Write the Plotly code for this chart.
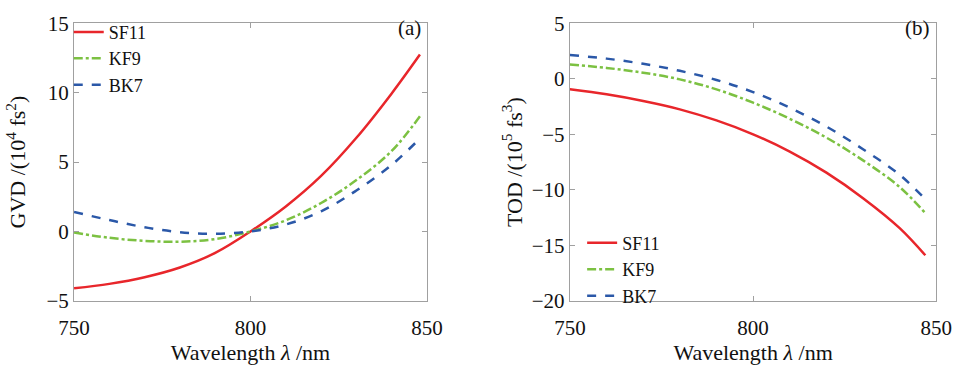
import plotly.graph_objects as go

# Wavelength samples (nm)
wl = [750, 760, 770, 780, 790, 800, 810, 820, 830, 840, 848]
wl_b = [750, 760, 770, 780, 790, 800, 810, 820, 830, 840, 847]

# (a) GVD in 10^4 fs^2
gvd_sf11 = [-4.1, -3.78, -3.3, -2.6, -1.55, 0.0, 1.8, 4.0, 6.75, 9.95, 12.75]
gvd_kf9 = [-0.08, -0.46, -0.68, -0.74, -0.55, 0.0, 0.8, 2.05, 3.7, 5.8, 8.3]
gvd_bk7 = [1.4, 0.82, 0.3, -0.05, -0.17, 0.0, 0.5, 1.45, 2.95, 4.8, 6.7]

# (b) TOD in 10^5 fs^3
tod_sf11 = [-0.95, -1.4, -2.0, -2.75, -3.75, -5.0, -6.55, -8.45, -10.75, -13.45, -15.9]
tod_kf9 = [1.3, 0.98, 0.55, -0.05, -0.95, -2.15, -3.6, -5.3, -7.35, -9.75, -12.1]
tod_bk7 = [2.15, 1.82, 1.35, 0.72, -0.1, -1.2, -2.6, -4.3, -6.35, -8.65, -10.85]

names = ["SF11", "KF9", "BK7"]
colors = ["#e8262b", "#7cc142", "#2b58a8"]
dashes = ["solid", "dashdot", "dash"]

x_ticks = [750, 800, 850]
ya_ticks = [-5, 0, 5, 10, 15]
yb_ticks = [-20, -15, -10, -5, 0, 5]

FONT = "Times New Roman, Liberation Serif, DejaVu Serif, serif"
fig = go.Figure()

for i, ys in enumerate([gvd_sf11, gvd_kf9, gvd_bk7]):
    fig.add_trace(go.Scatter(x=wl, y=ys, mode="lines", name=names[i],
                             line=dict(color=colors[i], dash=dashes[i], width=2.5, shape="spline", smoothing=1.0),
                             xaxis="x", yaxis="y", legend="legend"))
for i, ys in enumerate([tod_sf11, tod_kf9, tod_bk7]):
    fig.add_trace(go.Scatter(x=wl_b, y=ys, mode="lines", name=names[i],
                             line=dict(color=colors[i], dash=dashes[i], width=2.5, shape="spline", smoothing=1.0),
                             xaxis="x2", yaxis="y2", legend="legend2"))

ax_common = dict(showgrid=False, zeroline=False, showline=True, linecolor="#a0a0a0",
                 linewidth=1.2, mirror="allticks", ticks="inside", ticklen=5,
                 tickcolor="#a0a0a0", ticklabeloverflow="allow",
                 tickfont=dict(family=FONT, size=21, color="#111"))

fig.update_layout(
    width=974, height=367,
    margin=dict(l=0, r=0, t=0, b=0),
    paper_bgcolor="white", plot_bgcolor="white",
    font=dict(family=FONT, size=21, color="#111"),
    showlegend=True,
    xaxis=dict(domain=[0.0616, 0.4363], range=[750, 850], tickvals=x_ticks, ticklabelstandoff=8,
               title=dict(text="Wavelength <i>λ</i> /nm", standoff=3, font=dict(family=FONT, size=22)),
               anchor="y", **ax_common),
    yaxis=dict(domain=[0.158, 0.967], range=[-5, 15], tickvals=ya_ticks,
               title=dict(text="GVD /(10<sup>4</sup> fs<sup>2</sup>)", standoff=14, font=dict(family=FONT, size=22)),
               anchor="x", **ax_common),
    xaxis2=dict(domain=[0.588, 0.977], range=[750, 850], tickvals=x_ticks, ticklabelstandoff=8,
                title=dict(text="Wavelength <i>λ</i> /nm", standoff=3, font=dict(family=FONT, size=22)),
                anchor="y2", **ax_common),
    yaxis2=dict(domain=[0.158, 0.967], range=[-20, 5], tickvals=yb_ticks,
                title=dict(text="TOD /(10<sup>5</sup> fs<sup>3</sup>)", standoff=3, font=dict(family=FONT, size=22)),
                anchor="x2", **ax_common),
    legend=dict(x=0.056, y=0.995, xanchor="left", yanchor="top", bgcolor="rgba(0,0,0,0)",
                font=dict(family=FONT, size=18), tracegroupgap=0, itemwidth=30),
    legend2=dict(x=0.601, y=0.38, xanchor="left", yanchor="top", bgcolor="rgba(0,0,0,0)",
                 font=dict(family=FONT, size=18), tracegroupgap=0, itemwidth=30),
    annotations=[
        dict(text="(a)", x=0.432, y=0.995, xref="paper", yref="paper", xanchor="right",
             yanchor="top", showarrow=False, font=dict(family=FONT, size=21)),
        dict(text="(b)", x=0.972, y=0.995, xref="paper", yref="paper", xanchor="right",
             yanchor="top", showarrow=False, font=dict(family=FONT, size=21)),
    ],
)

fig.write_html("out.html")
